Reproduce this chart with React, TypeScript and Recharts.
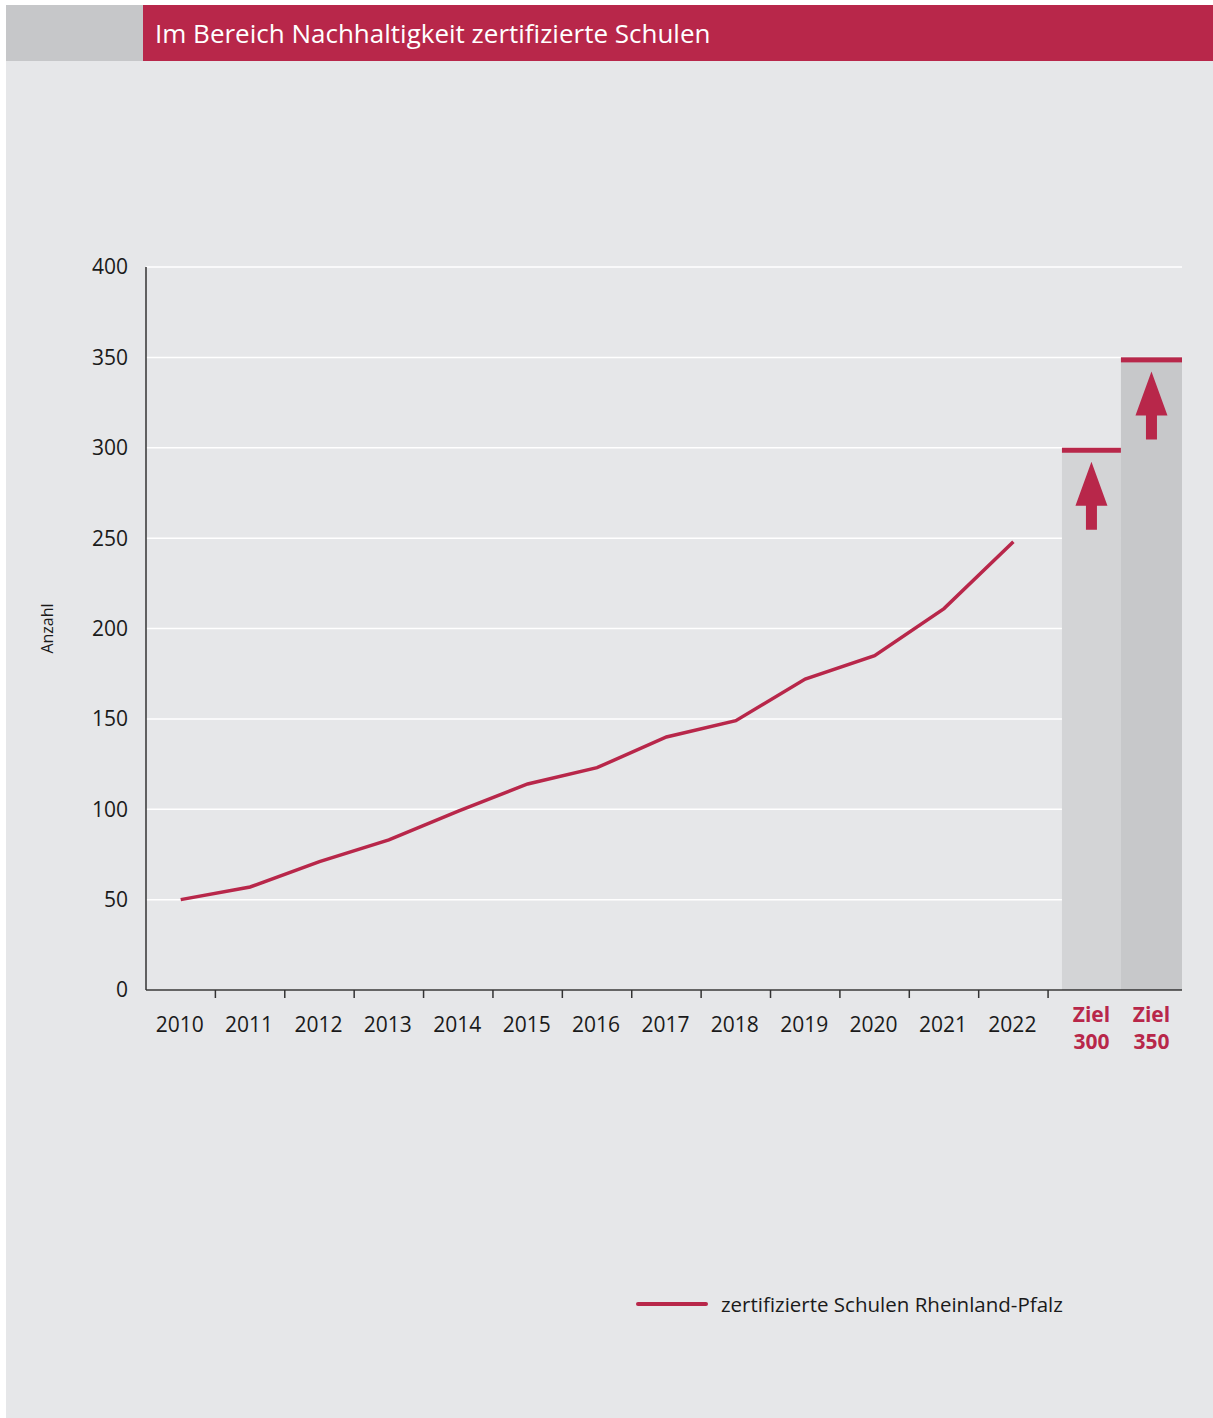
import { ComposedChart, Line, XAxis, YAxis, CartesianGrid, ReferenceArea } from 'recharts';

const RED = '#b8274a';
const FONT = '"Open Sans", "Noto Sans", sans-serif';

const years = ['2010', '2011', '2012', '2013', '2014', '2015', '2016', '2017', '2018', '2019', '2020', '2021', '2022'];
const schools = [50, 57, 71, 83, 99, 114, 123, 140, 149, 172, 185, 211, 248];

const targets = [300, 350];
const targetLabels = ['300', '350'];
const yTicks = [0, 50, 100, 150, 200, 250, 300, 350, 400];

// x is in "year slots": each year sits in the middle of its slot
const X_MAX = 14.93;
const targetSlots = [
  [13.2, 14.05],
  [14.05, 14.93],
];

const data = years.map((year, i) => ({ x: i + 0.5, year, value: schools[i] }));
const targetCenters = targetSlots.map(([a, b]) => (a + b) / 2);
const xTicks = [...data.map((d) => d.x), ...targetCenters];

const SLOT_PX = (1182 - 146) / X_MAX;

function XTick(props: any) {
  const { x, y, payload } = props;
  const v = payload.value;
  const yi = data.findIndex((d) => Math.abs(d.x - v) < 0.01);
  if (yi >= 0) {
    return (
      <g>
        <line x1={x + SLOT_PX / 2} x2={x + SLOT_PX / 2} y1={y} y2={y + 8} stroke="#333" strokeWidth={1.5} />
        <text x={x - 1} y={y + 42} textAnchor="middle" fontSize={21} fill="#1a1a1a" fontFamily={FONT}>
          {years[yi]}
        </text>
      </g>
    );
  }
  const ti = targetCenters.findIndex((c) => Math.abs(c - v) < 0.01);
  return (
    <g>
      <text x={x} y={y + 32} textAnchor="middle" fontSize={21} fontWeight={700} fill={RED} fontFamily={FONT}>
        Ziel
      </text>
      <text x={x} y={y + 59} textAnchor="middle" fontSize={21} fontWeight={700} fill={RED} fontFamily={FONT}>
        {targetLabels[ti]}
      </text>
    </g>
  );
}

function TargetBar(fill: string) {
  return (props: any) => {
    const { x, y, width, height } = props;
    const cx = x + width / 2;
    return (
      <g>
        <rect x={x} y={y} width={width} height={height} fill={fill} />
        <rect x={x} y={y} width={width} height={5} fill={RED} />
        <polygon
          points={`${cx},${y + 14} ${cx + 16},${y + 58} ${cx + 5.5},${y + 58} ${cx + 5.5},${y + 82} ${cx - 5.5},${y + 82} ${cx - 5.5},${y + 58} ${cx - 16},${y + 58}`}
          fill={RED}
        />
      </g>
    );
  };
}

const barFills = ['#d3d4d6', '#c7c8ca'];

export default function App() {
  return (
    <div style={{ position: 'absolute', left: 0, top: 0, width: 1213, height: 1418, background: '#fff', fontFamily: FONT }}>
      <div style={{ position: 'absolute', left: 6, top: 5, width: 137, height: 56, background: '#c6c7c9' }} />
      <div
        style={{
          position: 'absolute',
          left: 143,
          top: 5,
          width: 1070,
          height: 56,
          background: RED,
          color: '#fff',
          fontSize: 26,
          lineHeight: '56px',
          paddingLeft: 12,
          boxSizing: 'border-box',
        }}
      >
        Im Bereich Nachhaltigkeit zertifizierte Schulen
      </div>
      <div style={{ position: 'absolute', left: 6, top: 61, width: 1207, height: 1357, background: '#e6e7e9' }} />

      <div style={{ position: 'absolute', left: 0, top: 0 }}>
        <ComposedChart
          width={1213}
          height={1418}
          data={data}
          margin={{ top: 267, right: 31, bottom: 358, left: 46 }}
        >
          <CartesianGrid horizontal vertical={false} stroke="#ffffff" strokeWidth={1.5} />
          <XAxis
            dataKey="x"
            type="number"
            domain={[0, X_MAX]}
            ticks={xTicks}
            interval={0}
            tick={<XTick />}
            tickLine={false}
            tickSize={0}
            tickMargin={0}
            axisLine={{ stroke: '#333', strokeWidth: 1.5 }}
            height={70}
          />
          <YAxis
            type="number"
            domain={[0, 400]}
            ticks={yTicks}
            width={100}
            tickLine={false}
            tickSize={0}
            tickMargin={18}
            axisLine={{ stroke: '#333', strokeWidth: 1.5 }}
            tick={{ fontSize: 21, fill: '#1a1a1a', fontFamily: FONT }}
            label={{
              value: 'Anzahl',
              angle: -90,
              position: 'insideLeft',
              offset: 1,
              style: { textAnchor: 'middle', fontSize: 16, fill: '#1a1a1a', fontFamily: FONT },
            }}
          />
          {targets.map((t, i) => (
            <ReferenceArea
              key={t}
              x1={targetSlots[i][0]}
              x2={targetSlots[i][1]}
              y1={0}
              y2={t}
              ifOverflow="visible"
              shape={TargetBar(barFills[i])}
            />
          ))}
          <Line
            type="linear"
            dataKey="value"
            stroke={RED}
            strokeWidth={3.5}
            dot={false}
            activeDot={false}
            isAnimationActive={false}
          />
        </ComposedChart>
      </div>

      <div style={{ position: 'absolute', left: 636, top: 1290, display: 'flex', alignItems: 'center', height: 28 }}>
        <div style={{ width: 72, height: 4, background: RED, borderRadius: 2 }} />
        <span style={{ marginLeft: 13, fontSize: 20.5, color: '#1a1a1a' }}>zertifizierte Schulen Rheinland-Pfalz</span>
      </div>
    </div>
  );
}
